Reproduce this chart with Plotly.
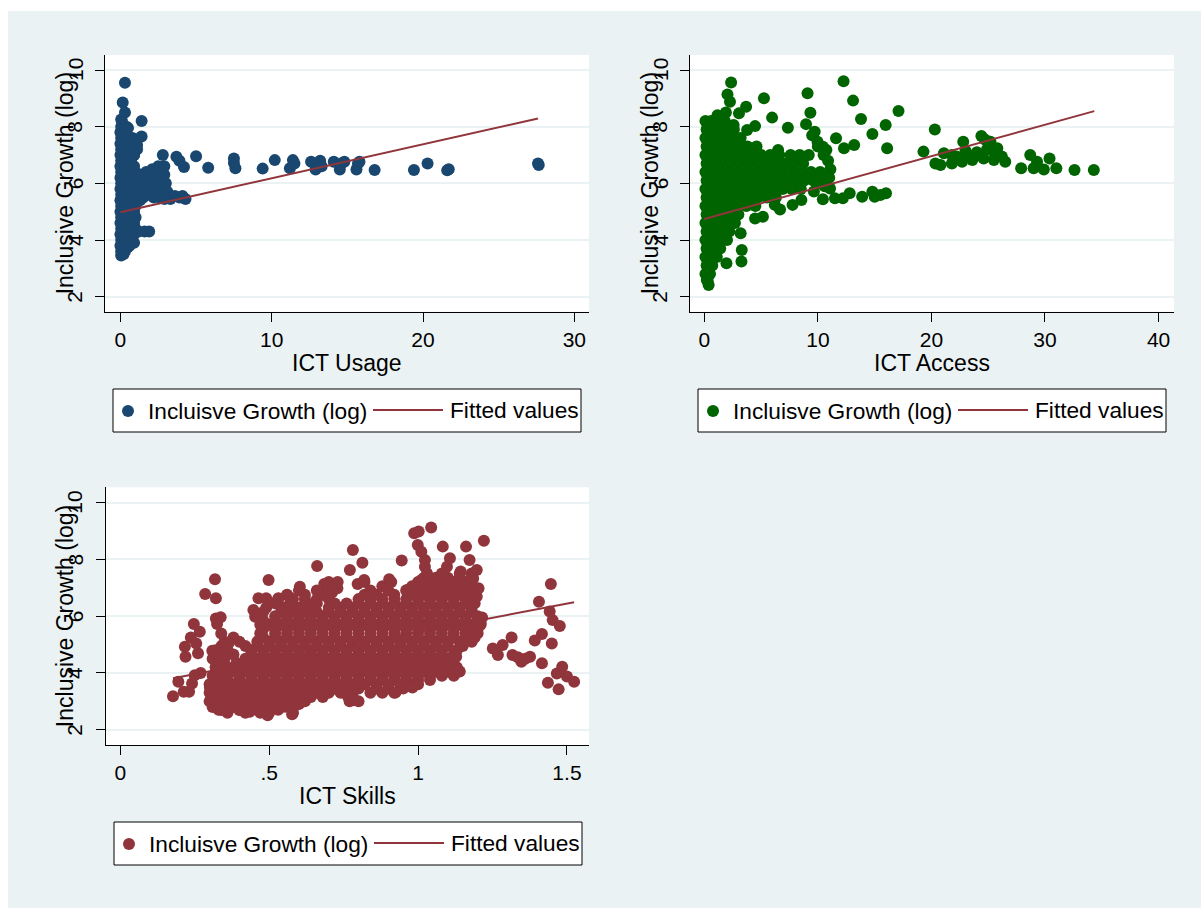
import plotly.graph_objects as go

W, H = 1203, 908
BG = "#EAF2F3"
NAVY = "#1A476F"
GREEN = "#006400"
MAROON = "#90353B"
FONT = "Liberation Sans, Arial, Helvetica, sans-serif"

y_ticks = [2, 4, 6, 8, 10]

# ---------------- Panel 1: ICT Usage ----------------
usage_row_y = [3.45, 3.6, 3.8, 4.0, 4.2, 4.4, 4.6, 4.8, 5.0, 5.2, 5.4, 5.6, 5.8,
               6.0, 6.2, 6.4, 6.6, 6.8, 7.0, 7.2, 7.4, 7.6, 7.8, 8.0, 8.2]
usage_row_x = [
    [0.05], [0.05, 0.3], [0.0, 0.3, 0.6], [0.05, 0.35, 0.7], [0.0, 0.3, 0.6, 0.9],
    [0.05, 0.35, 0.7, 1.0], [0.0, 0.3, 0.6, 0.9], [0.05, 0.35, 0.7, 1.0],
    [0.0, 0.3, 0.6, 0.9], [0.05, 0.35, 0.7, 1.0], [0.0, 0.3, 0.6, 0.9, 1.3],
    [0.05, 0.35, 0.7, 1.0], [0.0, 0.3, 0.6, 0.9, 1.3], [0.05, 0.35, 0.7, 1.0],
    [0.0, 0.3, 0.6, 0.9, 1.3], [0.05, 0.35, 0.7, 1.0], [0.0, 0.3, 0.6, 0.9],
    [0.05, 0.35, 0.7], [0.0, 0.3, 0.6, 0.9], [0.05, 0.35, 0.7, 1.1], [0.0, 0.3, 0.6],
    [0.05, 0.35, 0.8], [0.0, 0.3], [0.05, 0.4], [0.1],
]
usage_extra_x = [0.3, 0.15, 0.3, 0.05, 0.2, 1.4, 0.5, 1.4, 1.0, 1.1, 0.9,
                 1.6, 1.9, 1.2, 0.9, 0.5, 0.2,
                 1.3, 1.7, 2.1, 2.5, 2.9, 2.9, 3.0, 2.5, 2.0, 1.5, 1.9, 2.3, 2.7, 3.1,
                 1.5, 1.8, 2.2, 2.6, 2.9, 3.3, 3.6, 3.9, 4.1, 4.3, 1.2, 2.4, 1.2,
                 2.8, 3.7, 3.9, 4.2, 5.0, 5.8, 7.5, 7.5, 7.6, 9.4, 10.2, 11.2, 11.4,
                 11.5, 12.6, 12.9, 13.2, 13.3, 14.1, 14.5, 14.6, 14.8, 15.6, 15.7,
                 15.8, 16.8, 19.4, 20.3, 21.6, 21.7, 27.6, 27.65]
usage_extra_y = [9.55, 8.85, 8.5, 8.25, 8.0, 8.2, 7.95, 7.65, 7.55, 7.35, 7.0,
                 4.3, 4.3, 4.3, 3.9, 3.75, 3.5,
                 6.3, 6.4, 6.5, 6.6, 6.6, 6.3, 6.0, 6.2, 6.2, 6.0, 5.9, 5.8, 5.8, 5.7,
                 5.5, 5.6, 5.5, 5.5, 5.45, 5.45, 5.55, 5.5, 5.55, 5.45, 5.7, 6.0, 6.0,
                 7.0, 6.94, 6.8, 6.58, 6.96, 6.55, 6.88, 6.72, 6.53, 6.52, 6.82, 6.53,
                 6.82, 6.7, 6.76, 6.49, 6.8, 6.6, 6.76, 6.49, 6.7, 6.76, 6.49, 6.7,
                 6.76, 6.47, 6.47, 6.7, 6.46, 6.5, 6.7, 6.65]
usage_fit_x = [0.0, 27.6]
usage_fit_y = [4.98, 8.29]

# ---------------- Panel 2: ICT Access ----------------
access_row_y = [8.2, 7.9, 7.6, 7.3, 7.0, 6.7, 6.4, 6.1, 5.8, 5.5, 5.2, 4.9, 4.6,
                4.3, 4.0, 3.7, 3.4, 3.1, 2.8, 2.55]
access_row_x = [
    [0.1, 0.6, 1.2, 1.8],
    [0.2, 0.8, 1.4, 2.0, 2.6],
    [0.1, 0.6, 1.2, 1.9, 2.5, 3.2],
    [0.2, 0.8, 1.5, 2.2, 3.0, 3.8, 4.6],
    [0.1, 0.7, 1.3, 2.0, 2.7, 3.4, 4.2, 5.0, 5.8, 6.6, 7.6, 8.4, 9.2],
    [0.2, 0.8, 1.5, 2.3, 3.1, 3.9, 4.7, 5.5, 6.3, 7.1, 7.9, 8.7],
    [0.1, 0.7, 1.4, 2.2, 3.0, 3.8, 4.6, 5.4, 6.2, 7.0, 7.8, 8.6, 9.4, 10.2],
    [0.2, 0.9, 1.6, 2.4, 3.2, 4.0, 4.8, 5.6, 6.4, 7.2, 8.0, 8.8, 9.6, 10.4],
    [0.1, 0.7, 1.4, 2.1, 2.9, 3.7, 4.5, 5.3, 6.1, 6.9, 7.7, 8.5],
    [0.2, 0.8, 1.5, 2.3, 3.1, 3.9, 4.7, 5.5, 6.3],
    [0.1, 0.7, 1.4, 2.1, 2.9, 3.7, 4.5],
    [0.2, 0.8, 1.5, 2.2, 3.0],
    [0.1, 0.7, 1.3, 2.0, 2.7],
    [0.2, 0.8, 1.5, 2.2],
    [0.1, 0.7, 1.3, 2.0],
    [0.2, 0.8, 1.4],
    [0.1, 0.6, 1.1],
    [0.2, 0.7],
    [0.1, 0.5],
    [0.3],
]
access_extra_x = [2.36, 12.26, 2.04, 9.09, 5.25, 13.1, 2.26, 17.1, 3.05, 3.68, 9.34,
                  5.97, 13.8, 1.9, 1.16, 15.97, 8.96, 7.36, 4.47, 3.77, 20.3, 9.72,
                  2.58, 14.8, 11.6, 22.8, 24.4, 24.7, 25.2, 13.2, 12.3, 16.1, 6.5,
                  10.75, 9.97, 10.44, 25.8, 19.3, 21.1, 21.8, 28.7, 30.4, 29.3, 26.5,
                  20.35, 20.8, 21.8, 22.7, 23.6, 24.6, 25.5, 27.9, 29.0, 29.9, 31.0,
                  32.6, 34.3,
                  10.44, 11.5, 12.2, 12.8, 13.9, 14.8, 15.0, 15.5, 16.0, 9.65, 11.07,
                  8.55, 7.77, 6.67, 6.2, 5.16, 4.47,
                  3.2, 3.3, 3.27, 1.95, 0.38, 0.22,
                  9.5, 10.0, 10.5, 10.9, 11.1, 11.0, 10.6, 10.0,
                  22.2, 23.2, 24.0, 24.9, 25.6, 26.2, 23.0]
access_extra_y = [9.56, 9.6, 9.14, 9.18, 9.0, 8.92, 8.88, 8.55, 8.47, 8.7, 8.49,
                  8.32, 8.27, 8.5, 8.4, 8.06, 8.09, 7.96, 8.02, 7.88, 7.9, 7.82,
                  8.06, 7.74, 7.59, 7.47, 7.67, 7.55, 7.47, 7.35, 7.24, 7.24, 7.18,
                  7.18, 7.47, 7.29, 7.24, 7.12, 7.06, 7.0, 7.0, 6.88, 6.76, 6.76,
                  6.7, 6.65, 6.7, 6.76, 6.82, 6.88, 6.82, 6.53, 6.53, 6.49, 6.53,
                  6.47, 6.47,
                  5.44, 5.47, 5.47, 5.65, 5.53, 5.7, 5.53, 5.59, 5.65, 5.71, 5.82,
                  5.41, 5.24, 5.08, 5.24, 4.82, 4.76,
                  4.24, 3.65, 3.24, 3.18, 2.41, 2.59,
                  7.7, 7.3, 7.0, 6.8, 6.5, 6.2, 5.9, 6.0,
                  6.95, 7.0, 7.1, 7.2, 7.0, 6.95, 7.15]
access_fit_x = [0.0, 34.34]
access_fit_y = [4.74, 8.55]

# ---------------- Panel 3: ICT Skills ----------------
skills_row_y = [2.6, 2.7, 2.8, 2.9, 3.0, 3.15, 3.3, 3.45, 3.6, 3.75, 3.9, 4.05,
                4.2, 4.35, 4.5, 4.65, 4.8, 4.95, 5.1, 5.25, 5.4, 5.55, 5.7, 5.85,
                6.0, 6.15, 6.3, 6.45, 6.6, 6.75, 6.9, 7.05, 7.2, 7.35, 7.5]
skills_row_x = [
    [0.36, 0.42, 0.47, 0.50, 0.58],
    [0.33, 0.40, 0.44, 0.48, 0.53],
    [0.31, 0.34, 0.38, 0.42, 0.46, 0.50, 0.54, 0.57],
    [0.32, 0.36, 0.40, 0.44, 0.48, 0.52, 0.56, 0.60],
    [0.30, 0.34, 0.38, 0.42, 0.46, 0.50, 0.54, 0.58, 0.62, 0.77, 0.80],
    [0.32, 0.36, 0.40, 0.44, 0.48, 0.52, 0.56, 0.60, 0.64, 0.68, 0.78],
    [0.30, 0.34, 0.38, 0.42, 0.46, 0.50, 0.54, 0.58, 0.62, 0.66, 0.70, 0.74, 0.78,
     0.84, 0.88, 0.92],
    [0.32, 0.36, 0.40, 0.44, 0.48, 0.52, 0.56, 0.60, 0.64, 0.68, 0.72, 0.76, 0.80,
     0.86, 0.90, 0.95],
    [0.30, 0.34, 0.38, 0.42, 0.46, 0.50, 0.54, 0.58, 0.62, 0.66, 0.70, 0.74, 0.78,
     0.82, 0.86, 0.90, 0.94, 0.98, 1.00],
    [0.32, 0.36, 0.40, 0.44, 0.48, 0.52, 0.56, 0.60, 0.64, 0.68, 0.72, 0.76, 0.80,
     0.84, 0.88, 0.92, 0.96, 1.00, 1.04],
    [0.31, 0.35, 0.40, 0.44, 0.48, 0.52, 0.56, 0.60, 0.64, 0.68, 0.72, 0.76, 0.80,
     0.84, 0.88, 0.92, 0.96, 1.00, 1.04, 1.08, 1.12],
    [0.33, 0.38, 0.42, 0.46, 0.50, 0.54, 0.58, 0.62, 0.66, 0.70, 0.74, 0.78, 0.82,
     0.86, 0.90, 0.94, 0.98, 1.02, 1.06, 1.10, 1.14],
    [0.32, 0.36, 0.41, 0.45, 0.49, 0.53, 0.57, 0.61, 0.65, 0.69, 0.73, 0.77, 0.81,
     0.85, 0.89, 0.93, 0.97, 1.01, 1.05, 1.09, 1.13],
    [0.34, 0.39, 0.43, 0.47, 0.51, 0.55, 0.59, 0.63, 0.67, 0.71, 0.75, 0.79, 0.83,
     0.87, 0.91, 0.95, 0.99, 1.03, 1.07, 1.11],
    [0.31, 0.35, 0.42, 0.46, 0.50, 0.54, 0.58, 0.62, 0.66, 0.70, 0.74, 0.78, 0.82,
     0.86, 0.90, 0.94, 0.98, 1.02, 1.06, 1.10],
    [0.33, 0.38, 0.44, 0.48, 0.52, 0.56, 0.60, 0.64, 0.68, 0.72, 0.76, 0.80, 0.84,
     0.88, 0.92, 0.96, 1.00, 1.04, 1.08, 1.12],
    [0.32, 0.36, 0.44, 0.48, 0.52, 0.56, 0.60, 0.64, 0.68, 0.72, 0.76, 0.80, 0.84,
     0.88, 0.92, 0.96, 1.00, 1.04, 1.08, 1.13],
    [0.34, 0.42, 0.46, 0.50, 0.54, 0.58, 0.62, 0.66, 0.70, 0.74, 0.78, 0.82, 0.86,
     0.90, 0.94, 0.98, 1.02, 1.06, 1.10, 1.15],
    [0.35, 0.40, 0.46, 0.50, 0.54, 0.58, 0.62, 0.66, 0.70, 0.74, 0.78, 0.82, 0.86,
     0.90, 0.94, 0.98, 1.02, 1.06, 1.10, 1.14, 1.18],
    [0.38, 0.48, 0.52, 0.56, 0.60, 0.64, 0.68, 0.72, 0.76, 0.80, 0.84, 0.88, 0.92,
     0.96, 1.00, 1.04, 1.08, 1.12, 1.16, 1.19],
    [0.47, 0.52, 0.56, 0.60, 0.64, 0.68, 0.72, 0.76, 0.80, 0.84, 0.88, 0.92, 0.96,
     1.00, 1.04, 1.08, 1.12, 1.16, 1.20],
    [0.48, 0.52, 0.56, 0.60, 0.64, 0.68, 0.72, 0.76, 0.80, 0.84, 0.88, 0.92, 0.96,
     1.00, 1.04, 1.08, 1.12, 1.16, 1.20],
    [0.47, 0.50, 0.54, 0.58, 0.62, 0.66, 0.70, 0.74, 0.78, 0.82, 0.86, 0.90, 0.94,
     0.98, 1.02, 1.06, 1.10, 1.14, 1.18, 1.21],
    [0.48, 0.52, 0.56, 0.60, 0.64, 0.68, 0.72, 0.76, 0.80, 0.84, 0.88, 0.92, 0.96,
     1.00, 1.04, 1.08, 1.12, 1.16, 1.20],
    [0.47, 0.52, 0.56, 0.60, 0.64, 0.68, 0.72, 0.76, 0.80, 0.84, 0.88, 0.92, 0.96,
     1.00, 1.04, 1.08, 1.12, 1.16, 1.20],
    [0.48, 0.54, 0.58, 0.62, 0.66, 0.70, 0.74, 0.78, 0.82, 0.86, 0.90, 0.94, 0.98,
     1.02, 1.06, 1.10, 1.14, 1.18],
    [0.49, 0.55, 0.60, 0.64, 0.70, 0.74, 0.78, 0.82, 0.86, 0.90, 0.94, 0.98, 1.02,
     1.06, 1.10, 1.14, 1.18],
    [0.52, 0.57, 0.62, 0.66, 0.72, 0.76, 0.80, 0.84, 0.88, 0.92, 0.96, 1.00, 1.04,
     1.08, 1.12, 1.16, 1.19],
    [0.53, 0.58, 0.62, 0.66, 0.70, 0.80, 0.84, 0.88, 0.92, 0.96, 1.00, 1.04, 1.08,
     1.12, 1.16, 1.19],
    [0.56, 0.62, 0.68, 0.82, 0.86, 0.92, 0.98, 1.02, 1.06, 1.10, 1.14, 1.18],
    [0.60, 0.66, 0.71, 0.84, 0.90, 0.96, 1.00, 1.04, 1.08, 1.12, 1.16, 1.19],
    [0.72, 0.88, 0.98, 1.02, 1.06, 1.10, 1.14, 1.18],
    [0.70, 0.73, 0.82, 0.91, 1.00, 1.04, 1.08, 1.12, 1.16],
    [1.02, 1.06, 1.10, 1.14],
    [1.03, 1.08, 1.14, 1.18],
]
skills_extra_x = [0.177, 0.195, 0.213, 0.231, 0.241, 0.25, 0.27, 0.219, 0.217, 0.237,
                  0.247, 0.267, 0.261, 0.255, 0.285, 0.318, 0.321, 0.321, 0.337,
                  0.325, 0.339, 0.309, 0.301, 0.306, 0.339, 0.40, 0.435, 0.495,
                  0.555, 0.577, 0.363,
                  0.498, 0.464, 0.49, 0.447, 0.453, 0.531, 0.561, 0.603, 0.591,
                  0.651, 0.661, 0.685, 0.711, 0.729, 0.771, 0.781, 0.797, 0.813,
                  0.819, 0.903, 0.945, 0.987, 1.002, 1.044, 0.999, 1.011, 1.023,
                  1.023, 1.083, 1.107, 1.097, 1.143, 1.161, 1.173, 1.221, 1.197,
                  1.185, 1.197, 1.203, 1.011, 0.963,
                  1.251, 1.268, 1.284, 1.314, 1.317, 1.347, 1.376, 1.416, 1.392,
                  1.416, 1.406, 1.446, 1.442, 1.452, 1.476, 1.449, 1.436, 1.472,
                  1.484, 1.466, 1.50, 1.524, 1.335, 1.36,
                  1.128, 1.131, 1.083, 1.041, 0.981, 0.924, 0.765, 0.783,
                  1.21, 1.19, 1.215]
skills_extra_y = [3.18, 3.69, 3.34, 3.34, 3.63, 3.92, 4.0, 4.57, 4.92, 5.25,
                  5.72, 5.45, 4.69, 5.04, 6.78, 7.3, 6.63, 5.92, 5.96,
                  5.72, 5.39, 4.78, 3.49, 3.1, 2.69, 2.69, 2.63, 2.51,
                  2.81, 2.54, 5.04,
                  7.27, 6.63, 6.63, 6.22, 5.98, 6.63, 6.74, 7.04, 6.27,
                  6.45, 7.77, 7.13, 6.83, 6.98, 7.63, 8.33, 7.13, 7.88,
                  7.27, 7.3, 7.96, 8.92, 8.98, 9.12, 8.51, 8.27, 7.98,
                  7.74, 8.45, 8.04, 7.74, 7.57, 8.45, 7.98, 8.66, 7.63,
                  7.33, 6.69, 6.98, 7.27, 6.92,
                  4.86, 4.63, 4.98, 5.25, 4.63, 4.39, 4.57, 4.34, 5.14,
                  5.37, 6.51, 7.13, 6.16, 5.86, 5.65, 5.04, 3.65, 3.42,
                  4.22, 3.98, 3.87, 3.69, 4.55, 4.5,
                  4.57, 4.04, 4.04, 4.04, 3.49, 3.31, 3.16, 3.04,
                  5.75, 5.5, 5.95]
skills_fit_x = [0.177, 1.524]
skills_fit_y = [3.81, 6.49]


def expand(row_y, row_x, extra_x, extra_y):
    xs, ys = [], []
    for yv, row in zip(row_y, row_x):
        for xv in row:
            xs.append(xv)
            ys.append(yv)
    return xs + list(extra_x), ys + list(extra_y)


panels = [
    dict(data=expand(usage_row_y, usage_row_x, usage_extra_x, usage_extra_y),
         fit=(usage_fit_x, usage_fit_y), color=NAVY, xa="x", ya="y"),
    dict(data=expand(access_row_y, access_row_x, access_extra_x, access_extra_y),
         fit=(access_fit_x, access_fit_y), color=GREEN, xa="x2", ya="y2"),
    dict(data=expand(skills_row_y, skills_row_x, skills_extra_x, skills_extra_y),
         fit=(skills_fit_x, skills_fit_y), color=MAROON, xa="x3", ya="y3"),
]

fig = go.Figure()
for p in panels:
    xs, ys = p["data"]
    fig.add_trace(go.Scatter(x=xs, y=ys, mode="markers", xaxis=p["xa"], yaxis=p["ya"],
                             marker=dict(color=p["color"], size=12, line=dict(width=0)),
                             name="Incluisve Growth (log)", showlegend=False,
                             hoverinfo="x+y"))
    fx, fy = p["fit"]
    fig.add_trace(go.Scatter(x=fx, y=fy, mode="lines", xaxis=p["xa"], yaxis=p["ya"],
                             line=dict(color=MAROON, width=2), name="Fitted values",
                             showlegend=False))


def px(v):
    return v / W


def py(v):
    return 1 - v / H


tickfont = dict(family=FONT, size=21, color="#000000")
common_x = dict(showgrid=False, zeroline=False, showline=True, linecolor="#000000",
                linewidth=1.3, ticks="outside", ticklen=9, tickwidth=1.3,
                tickcolor="#000000", tickfont=tickfont, fixedrange=True)
common_y = dict(showgrid=True, gridcolor=BG, gridwidth=1.5, zeroline=False,
                showline=True, linecolor="#000000", linewidth=1.3, ticks="outside",
                ticklen=9, tickwidth=1.3, tickcolor="#000000", showticklabels=False,
                tickvals=y_ticks, fixedrange=True)

top_dom = [py(311.7), py(55)]
bot_dom = [py(745), py(487.3)]

fig.update_layout(
    width=W, height=H, autosize=False,
    margin=dict(l=0, r=0, t=0, b=0),
    paper_bgcolor=BG, plot_bgcolor="#FFFFFF",
    showlegend=False,
    font=dict(family=FONT, size=22, color="#000000"),
    xaxis=dict(domain=[px(105), px(589)], range=[-1.02, 30.97],
               tickvals=[0, 10, 20, 30], anchor="y", **common_x),
    yaxis=dict(domain=top_dom, range=[1.47, 10.53], anchor="x", **common_y),
    xaxis2=dict(domain=[px(690), px(1174)], range=[-1.26, 41.36],
                tickvals=[0, 10, 20, 30, 40], anchor="y2", **common_x),
    yaxis2=dict(domain=top_dom, range=[1.47, 10.53], anchor="x2", **common_y),
    xaxis3=dict(domain=[px(106), px(589)], range=[-0.048, 1.574],
                tickvals=[0, 0.5, 1, 1.5], ticktext=["0", ".5", "1", "1.5"],
                anchor="y3", **common_x),
    yaxis3=dict(domain=bot_dom, range=[1.46, 10.54], anchor="x3", **common_y),
)

shapes = []
annotations = []

# white outer strips (page border)
for x0, x1, y0, y1 in [(0, 8, 0, H), (0, W, 0, 11), (1201, W, 0, H)]:
    shapes.append(dict(type="rect", xref="paper", yref="paper", x0=px(x0), x1=px(x1),
                       y0=py(y1), y1=py(y0), fillcolor="#FFFFFF", line=dict(width=0),
                       layer="below"))

# rotated y tick labels (Stata style, reading upward)
for yref, xcen in [("y", 75), ("y2", 660), ("y3", 75)]:
    for t in y_ticks:
        annotations.append(dict(text=str(t), xref="paper", yref=yref, x=px(xcen), y=t,
                                textangle=-90, showarrow=False, xanchor="center",
                                yanchor="middle", font=dict(family=FONT, size=21)))

# axis titles
ytitle = "Inclusive Growth (log)"
for xcen, ycen in [(65, (55 + 311.7) / 2), (650, (55 + 311.7) / 2),
                   (65, (487.3 + 745) / 2)]:
    annotations.append(dict(text=ytitle, xref="paper", yref="paper", x=px(xcen),
                            y=py(ycen), textangle=-90, showarrow=False,
                            xanchor="center", yanchor="middle",
                            font=dict(family=FONT, size=23)))
for label, xc, yc in [("ICT Usage", 347, 363), ("ICT Access", 932, 363),
                      ("ICT Skills", 347.5, 796)]:
    annotations.append(dict(text=label, xref="paper", yref="paper", x=px(xc), y=py(yc),
                            showarrow=False, xanchor="center", yanchor="middle",
                            font=dict(family=FONT, size=23)))

# legends (one box per panel)
legend_boxes = [(113, 389, NAVY), (698, 389, GREEN), (114, 822, MAROON)]
for bx, by, col in legend_boxes:
    bw, bh = 468, 43
    shapes.append(dict(type="rect", xref="paper", yref="paper", x0=px(bx), x1=px(bx + bw),
                       y0=py(by + bh), y1=py(by), fillcolor="#FFFFFF",
                       line=dict(color="#000000", width=1)))
    cy = by + 22
    r = 6
    shapes.append(dict(type="circle", xref="paper", yref="paper",
                       x0=px(bx + 15 - r), x1=px(bx + 15 + r), y0=py(cy + r), y1=py(cy - r),
                       fillcolor=col, line=dict(color=col, width=0)))
    shapes.append(dict(type="line", xref="paper", yref="paper",
                       x0=px(bx + 260), x1=px(bx + 330), y0=py(cy - 1), y1=py(cy - 1),
                       line=dict(color=MAROON, width=2)))
    annotations.append(dict(text="Incluisve Growth (log)", xref="paper", yref="paper",
                            x=px(bx + 33), y=py(cy), xanchor="left", yanchor="middle",
                            showarrow=False, font=dict(family=FONT, size=22.7)))
    annotations.append(dict(text="Fitted values", xref="paper", yref="paper",
                            x=px(bx + 335), y=py(cy - 1), xanchor="left", yanchor="middle",
                            showarrow=False, font=dict(family=FONT, size=22.7)))

fig.update_layout(shapes=shapes, annotations=annotations)
fig.write_html("out.html")
